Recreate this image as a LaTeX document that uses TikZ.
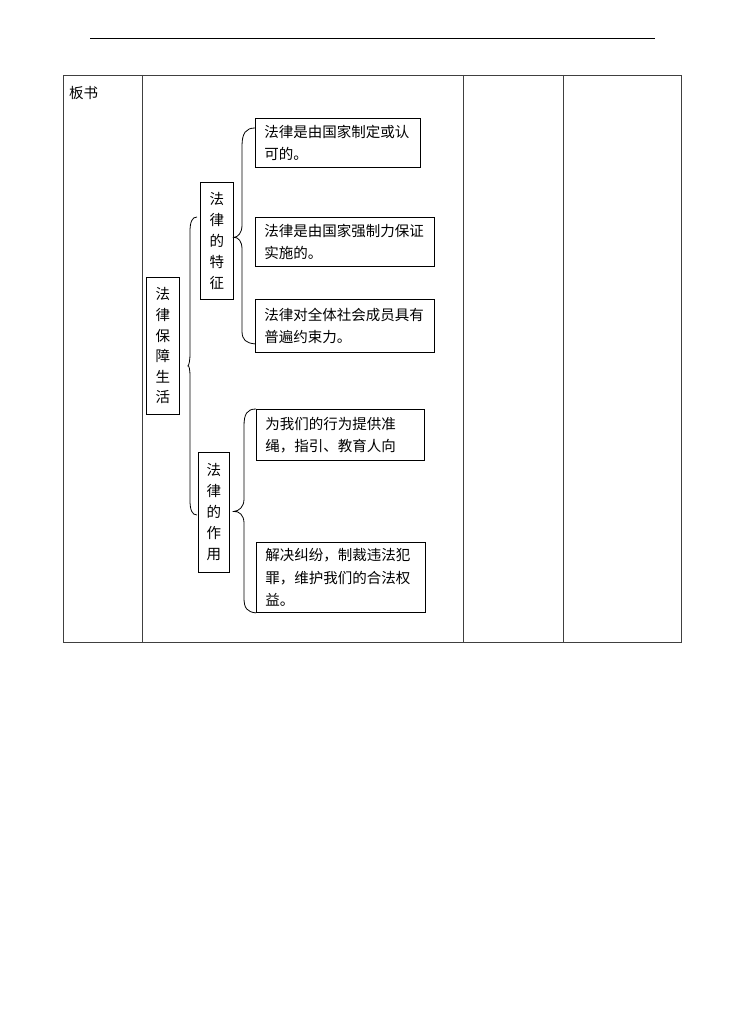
\documentclass[tikz,border=0pt]{standalone}
\usepackage{fontspec}
\newfontfamily\cjk{Noto Sans CJK SC}
\usetikzlibrary{calc}
\tikzset{
  kuang/.style={draw, line width=0.9pt, anchor=north west, inner xsep=9pt, inner ysep=0pt, align=left,
    font=\cjk\fontsize{14.5}{22.5}\selectfont},
  shu/.style={draw, line width=0.9pt, anchor=north west, inner sep=0pt, align=center,
    font=\cjk\fontsize{14.5}{21}\selectfont},
  biao/.style={line width=0.8pt, black!75},
  kuohao/.style={line width=0.8pt}
}

\begin{document}
\begin{tikzpicture}[x=1pt,y=-1pt]
        \useasboundingbox (0,0) rectangle (745,1032);

        % header line
        \draw[line width=0.9pt] (90,38) -- (655,38);

        % table
        \draw[biao] (63,75) rectangle (681,642);
        \draw[biao] (142,75) -- (142,642);
        \draw[biao] (463,75) -- (463,642);
        \draw[biao] (563,75) -- (563,642);
        \node[anchor=west, inner sep=0pt, font=\cjk\fontsize{14.5}{17}\selectfont] (banshu) at (69,93) {板书};

        % left column
        \node[shu, minimum width=33pt, minimum height=137pt, font=\cjk\fontsize{14.5}{20.6}\selectfont] (baozhang) at (146,277) {法\\律\\保\\障\\生\\活};
        \node[shu, minimum width=33pt, minimum height=117pt] (tezheng) at (200,182) {法\\律\\的\\特\\征};
        \node[shu, minimum width=31pt, minimum height=120pt] (zuoyong) at (198,452) {法\\律\\的\\作\\用};

        % right boxes
        \node[kuang, text width=147pt, minimum height=49pt] (tz1) at (255,118) {法律是由国家制定或认\\可的。};
        \node[kuang, text width=161pt, minimum height=49pt] (tz2) at (255,217) {法律是由国家强制力保证\\实施的。};
        \node[kuang, text width=161pt, minimum height=53pt] (tz3) at (255,299) {法律对全体社会成员具有\\普遍约束力。};
        \node[kuang, text width=150pt, minimum height=51pt] (zy1) at (256,409) {为我们的行为提供准\\绳，指引、教育人向};
        \node[kuang, text width=151pt, minimum height=70pt] (zy2) at (256,542) {解决纠纷，制裁违法犯\\罪，维护我们的合法权\\益。};

        % big brace
        \coordinate (b0) at ($(baozhang.east)+(8,20)$);
        \coordinate (b1) at (197,217);
        \coordinate (b2) at (197,515);
        \draw[kuohao] (b1) .. controls (192,217) and (190,222) .. (190,232) -- (190,353)
            .. controls (190,361) and (189,365) .. (b0)
            .. controls (189,365) and (190,369) .. (190,377) -- (190,500)
            .. controls (190,510) and (192,515) .. (b2);

        % brace to tezheng
        \coordinate (t0) at ($(tezheng.east)+(0,-3.5)$);
        \coordinate (t1) at ($(tz1.north west)+(0,10)$);
        \coordinate (t2) at ($(tz3.south west)+(0,-9)$);
        \draw[kuohao] (t1) .. controls (246,128) and (242,133) .. (242,146) -- (242,225)
            .. controls (242,233) and (238,237) .. (t0)
            .. controls (238,237) and (242,241) .. (242,249) -- (242,331)
            .. controls (242,340) and (246,343) .. (t2);

        % brace to zuoyong
        \coordinate (z0) at ($(zuoyong.east)+(4,-1)$);
        \coordinate (z1) at (zy1.north west);
        \coordinate (z2) at (zy2.south west);
        \draw[kuohao] (z1) .. controls (247,409) and (244,414) .. (244,426) -- (244,499)
            .. controls (244,507) and (239,511) .. (z0)
            .. controls (239,511) and (244,515) .. (244,523) -- (244,598)
            .. controls (244,608) and (247,612) .. (z2);
\end{tikzpicture}
\end{document}
